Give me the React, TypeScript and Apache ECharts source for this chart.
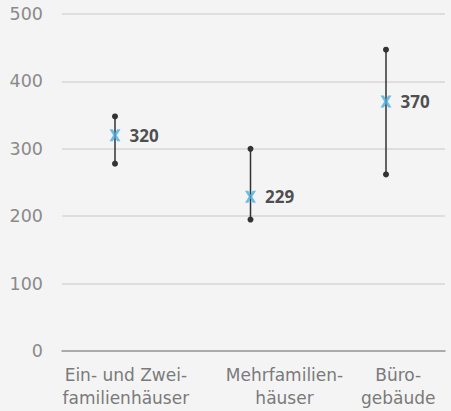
import React, { useEffect, useRef } from "react";
import * as echarts from "echarts";

const categories = ["Ein- und Zwei-\nfamilienhäuser", "Mehrfamilien-\nhäuser", "Büro-\ngebäude"];
const meanValues = [320, 229, 370];
const lowValues = [278, 195, 262];
const highValues = [348, 300, 447];
const yMin = 0;
const yMax = 500;
const yInterval = 100;

const FONT = "DejaVu Sans";

export default function App() {
  const ref = useRef<HTMLDivElement>(null);
  useEffect(() => {
    document.body.style.margin = "0";
    document.body.style.background = "#f4f4f4";
    const chart = echarts.init(ref.current!, null, { renderer: "svg" });
    const labelShift = [0, 62, 34];
    const rich: any = {};
    labelShift.forEach((s, i) => {
      rich["c" + i] = {
        fontFamily: FONT,
        fontSize: 17,
        color: "#7a7a7a",
        lineHeight: 23,
        padding: [0, 0, 0, s],
      };
    });
    chart.setOption({
      animation: false,
      backgroundColor: "#f4f4f4",
      grid: [
        { left: 62, right: 6, top: 14, bottom: 60 },
        { left: 115, width: 271, top: 14, bottom: 60 },
      ],
      xAxis: [
        {
          type: "category",
          gridIndex: 0,
          data: categories,
          axisTick: { show: false },
          axisLine: { lineStyle: { color: "#9a9a9a", width: 1.5 } },
          axisLabel: {
            margin: 12,
            interval: 0,
            formatter: (v: string, idx: number) =>
              v
                .split("\n")
                .map((l) => `{c${idx}|${l}}`)
                .join("\n"),
            rich,
          },
        },
        { type: "category", gridIndex: 1, data: categories, boundaryGap: false, show: false },
      ],
      yAxis: [
        {
          type: "value",
          gridIndex: 0,
          min: yMin,
          max: yMax,
          interval: yInterval,
          axisLine: { show: false },
          axisTick: { show: false },
          splitLine: { lineStyle: { color: "#dedede", width: 2 } },
          axisLabel: { fontFamily: FONT, fontSize: 17.5, color: "#8a8a8a", margin: 19 },
        },
        { type: "value", gridIndex: 1, min: yMin, max: yMax, interval: yInterval, show: false },
      ],
      series: [
        {
          type: "custom",
          xAxisIndex: 1,
          yAxisIndex: 1,
          z: 2,
          data: categories.map((_, i) => [i, lowValues[i], highValues[i]]),
          renderItem: (params: any, api: any) => {
            const x = api.value(0);
            const lo = api.coord([x, api.value(1)]);
            const hi = api.coord([x, api.value(2)]);
            const st = { fill: "#333", stroke: "none" };
            return {
              type: "group",
              children: [
                {
                  type: "line",
                  shape: { x1: lo[0], y1: lo[1], x2: hi[0], y2: hi[1] },
                  style: { stroke: "#333", lineWidth: 1.5 },
                },
                { type: "circle", shape: { cx: lo[0], cy: lo[1], r: 3 }, style: st },
                { type: "circle", shape: { cx: hi[0], cy: hi[1], r: 3 }, style: st },
              ],
            };
          },
        },
        {
          type: "scatter",
          xAxisIndex: 1,
          yAxisIndex: 1,
          z: 3,
          symbol:
            "path://M0,0 L3,0 L5,3.6 L7,0 L10,0 L6.6,5.5 L10,11 L7,11 L5,7.4 L3,11 L0,11 L3.4,5.5 Z",
          symbolSize: [11, 12],
          itemStyle: { color: "#4aaee2" },
          data: meanValues.map((v, i) => [i, v]),
          label: {
            show: true,
            position: "right",
            distance: 9,
            fontFamily: "Open Sans",
            fontSize: 17,
            fontWeight: "bold",
            color: "#222",
            formatter: (p: any) => String(p.value[1]),
          },
        },
      ],
    });
    return () => chart.dispose();
  }, []);
  return <div ref={ref} style={{ width: 451, height: 411 }} />;
}
